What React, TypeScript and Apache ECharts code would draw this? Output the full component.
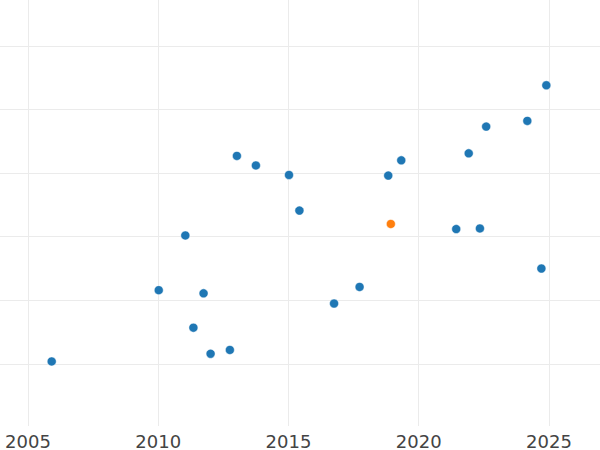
import React, { useEffect, useRef } from "react";
import * as echarts from "echarts";

const blueYears = [
  2005.91, 2010.02, 2011.04, 2011.74, 2011.35, 2012.01, 2012.75, 2013.02, 2013.75,
  2015.02, 2015.42, 2016.75, 2017.73, 2018.83, 2019.33, 2021.44, 2022.35, 2021.92,
  2022.59, 2024.17, 2024.9, 2024.71,
];
const blueValues = [
  1.04, 2.16, 3.02, 2.11, 1.57, 1.16, 1.22, 4.27, 4.12,
  3.97, 3.41, 1.95, 2.21, 3.96, 4.2, 3.12, 3.13, 4.31,
  4.73, 4.82, 5.38, 2.5,
];
const orangeYears = [2018.93];
const orangeValues = [3.2];

export default function App() {
  const ref = useRef<HTMLDivElement>(null);
  useEffect(() => {
    if (!ref.current) return;
    const chart = echarts.init(ref.current, null, { renderer: "svg" });
    const gridColor = "#ebebeb";
    chart.setOption({
      animation: false,
      backgroundColor: "#ffffff",
      grid: { left: 0, right: 0, top: 0, bottom: 24, containLabel: false },
      xAxis: {
        type: "value",
        min: 2003.925,
        max: 2026.96,
        splitNumber: 5,
        axisLine: { show: false },
        axisTick: { show: false },
        axisLabel: {
          color: "#444444",
          fontFamily: "DejaVu Sans",
          fontSize: 18,
          margin: 6,
          showMinLabel: false,
          showMaxLabel: false,
          formatter: (v: number) => String(Math.round(v)),
        },
        splitLine: {
          show: true,
          showMinLine: false,
          showMaxLine: false,
          lineStyle: { color: gridColor, width: 1 },
        },
      },
      yAxis: {
        type: "value",
        min: 0.025,
        max: 6.72,
        splitNumber: 6,
        axisLine: { show: false },
        axisTick: { show: false },
        axisLabel: { show: false },
        splitLine: {
          show: true,
          showMinLine: false,
          showMaxLine: false,
          lineStyle: { color: gridColor, width: 1 },
        },
      },
      series: [
        {
          type: "scatter",
          symbolSize: 9,
          itemStyle: { color: "#1f77b4", opacity: 1, borderColor: "#ffffff", borderWidth: 0.5 },
          data: blueYears.map((x, i) => [x, blueValues[i]]),
        },
        {
          type: "scatter",
          symbolSize: 9,
          itemStyle: { color: "#ff7f0e", opacity: 1, borderColor: "#ffffff", borderWidth: 0.5 },
          data: orangeYears.map((x, i) => [x, orangeValues[i]]),
        },
      ],
    });
    return () => chart.dispose();
  }, []);
  return <div ref={ref} style={{ width: 600, height: 450, position: "fixed", left: 0, top: 0 }} />;
}
